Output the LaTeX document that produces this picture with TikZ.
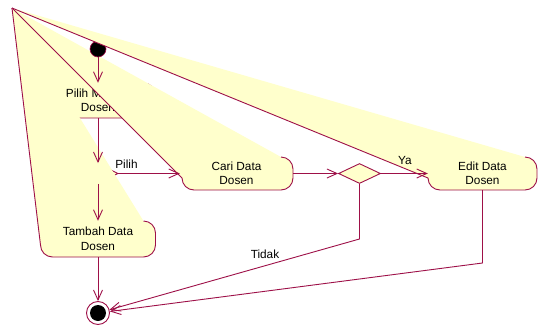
\documentclass[tikz,border=0pt]{standalone}
\usepackage{fontspec}
\setmainfont{Liberation Sans}
\usetikzlibrary{arrows.meta,shapes.geometric}
\definecolor{roseline}{RGB}{158,16,72}
\definecolor{actyellow}{RGB}{255,255,204}
% glitched activity outline: #1=L #2=T #3=R #4=B (its top-left corner is pulled to (12,8))
\newcommand\actshape[4]{%
  \fill[actfill] (12,8) -- ({#3-12},#2) .. controls ({#3-5.4},#2) and (#3,{#2+5.4}) .. (#3,{#2+12})
    -- (#3,{#4-12}) .. controls (#3,{#4-5.4}) and ({#3-5.4},#4) .. ({#3-12},#4)
    -- ({#1+12},#4) .. controls ({#1+5.4},#4) and (#1,{#4-5.4}) .. (#1,{#4-12}) -- cycle;
  \draw[actline] ({#3-12},#2) .. controls ({#3-5.4},#2) and (#3,{#2+5.4}) .. (#3,{#2+12})
    -- (#3,{#4-12}) .. controls (#3,{#4-5.4}) and ({#3-5.4},#4) .. ({#3-12},#4)
    -- ({#1+12},#4) .. controls ({#1+5.4},#4) and (#1,{#4-5.4}) .. (#1,{#4-12}) -- (12,8);
}
\begin{document}
\begin{tikzpicture}[x=1pt,y=-1pt,
  font=\fontsize{11.8}{14.5}\selectfont,
  actfill/.style={fill=actyellow},
  actline/.style={draw=roseline, line width=0.9pt, line join=round},
  act/.style={rectangle, inner sep=0pt, align=center, text=black},
  flow/.style={draw=roseline, line width=0.9pt, -{Straight Barb[length=10pt,width=9pt,line width=0.9pt]}},
  decision/.style={diamond, draw=roseline, fill=actyellow, line width=0.9pt, inner sep=0pt,
                   minimum width=42pt, minimum height=20pt},
  lbl/.style={inner sep=0pt, text=black}]
\useasboundingbox (0,0) rectangle (539,327);
\fill[white] (0,0) rectangle (539,327);

% Pilih Menu Dosen
\actshape{40.5}{83}{155.5}{118}
\node[act, minimum width=115pt, minimum height=35pt] (pilih) at (98,100.5) {Pilih Menu\hspace*{9pt}\\Dosen};
% first decision (mostly hidden)
\node[decision, minimum width=40pt] (dec1) at (98,173.5) {};
% Cari Data Dosen
\actshape{182}{157}{293}{190}
\node[act, minimum width=113pt, minimum height=33pt] (cari) at (236.5,173.5) {Cari Data\\Dosen};
% Tambah Data Dosen
\actshape{40.5}{221}{155.5}{257}
\node[act, minimum width=115pt, minimum height=36pt] (tambah) at (98,239) {Tambah Data\\Dosen};
% start
\node[circle, fill=black, draw=roseline, line width=0.6pt, minimum size=16pt, inner sep=0pt] (start) at (98,49) {};
% Edit Data Dosen
\actshape{428}{157}{537}{190}
\node[act, minimum width=109pt, minimum height=33pt] (edit) at (482.5,173.5) {Edit Data\\Dosen};
% second decision
\node[decision] (dec2) at (359.5,173.5) {};
% final state
\node[circle, draw=roseline, fill=white, line width=0.9pt, minimum size=23pt, inner sep=0pt] (final) at (98,313) {};
\node[circle, fill=black, minimum size=16pt, inner sep=0pt] (finaldot) at (final.center) {};

\coordinate (tidakbend) at (359.5,239);
\coordinate (editbend) at (482.5,263);

% connectors
\draw[flow] (start) -- (pilih);
\draw[flow] (pilih) -- (dec1);
\draw[flow] (dec1) -- (tambah);
\draw[flow] (dec1) -- (cari);
\draw[flow] (cari) -- (dec2);
\draw[flow] (dec2) -- (edit);
\draw[flow] (tambah) -- (final);
\draw[flow] (dec2) -- (tidakbend) -- (final);
\draw[flow] (edit) -- (editbend) -- (final);

% labels
\node[lbl] (lpilih) at (126.5,164.5) {Pilih};
\node[lbl] (lya) at (405,160) {Ya};
\node[lbl] (ltidak) at (265,254) {Tidak};
\end{tikzpicture}
\end{document}
